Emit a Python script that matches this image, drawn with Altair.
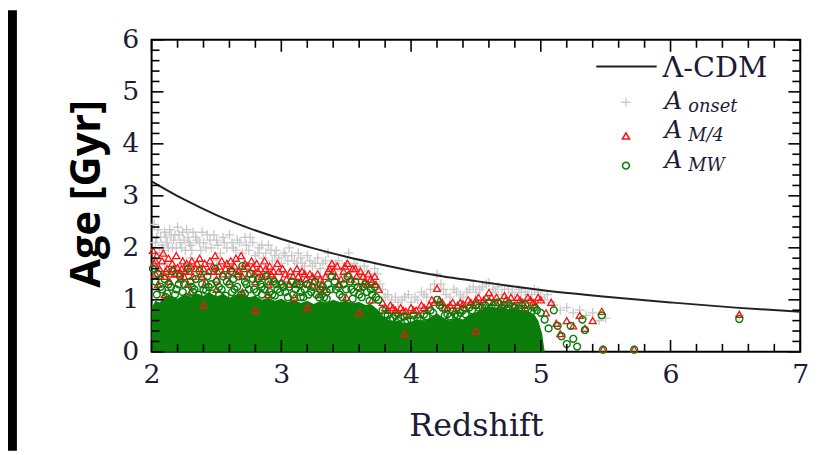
import altair as alt
import pandas as pd

# ---------------- data ----------------
lcdm_z = [2.0, 2.25, 2.5, 2.75, 3.0, 3.25, 3.5, 3.75, 4.0, 4.25, 4.5, 4.75, 5.0, 5.5, 6.0, 6.5, 7.0]
lcdm_age = [3.28, 2.93, 2.63, 2.38, 2.17, 1.99, 1.83, 1.69, 1.56, 1.45, 1.36, 1.27, 1.19, 1.06, 0.95, 0.85, 0.77]

# dense, saturated part of the A_MW cloud (upper edge of the solid green region)
core_z = [2.0, 2.03, 2.06, 2.1, 2.15, 2.2, 2.25, 2.3, 2.35, 2.4, 2.45, 2.5, 2.55, 2.6, 2.65, 2.7,
          2.75, 2.8, 2.85, 2.9, 2.95, 3.0, 3.05, 3.1, 3.15, 3.2, 3.25, 3.3, 3.35, 3.4, 3.45, 3.5,
          3.55, 3.6, 3.65, 3.7, 3.74, 3.78, 3.82, 3.86, 3.9, 3.95, 4.0, 4.05, 4.1, 4.15, 4.2, 4.25,
          4.3, 4.35, 4.4, 4.45, 4.5, 4.55, 4.6, 4.65, 4.7, 4.75, 4.8, 4.85, 4.9, 4.95, 4.98, 5.01, 5.03]
core_top = [0.85, 0.98, 0.95, 1.04, 1.08, 1.02, 1.1, 1.06, 1.12, 1.08, 1.14, 1.06, 1.12, 1.04, 1.1, 1.12,
            1.05, 1.08, 1.0, 1.04, 0.98, 1.02, 0.96, 1.0, 0.94, 0.98, 0.92, 0.98, 0.94, 1.0, 0.96, 0.98,
            0.94, 0.96, 0.9, 0.9, 0.82, 0.68, 0.62, 0.58, 0.6, 0.55, 0.58, 0.62, 0.6, 0.66, 0.74, 0.64,
            0.6, 0.66, 0.62, 0.72, 0.76, 0.82, 0.88, 0.84, 0.88, 0.82, 0.86, 0.8, 0.78, 0.72, 0.6, 0.35, 0.0]

onset_pts = [
    (2.02, 2.45), (2.04, 2.2), (2.06, 1.9), (2.08, 2.05), (2.1, 2.3), (2.12, 2.1), (2.14, 2.35),
    (2.16, 2.0), (2.18, 2.25), (2.2, 2.4), (2.22, 2.1), (2.24, 2.3), (2.26, 1.95), (2.28, 2.2),
    (2.3, 2.05), (2.32, 2.3), (2.35, 2.15), (2.38, 1.95), (2.4, 2.1), (2.43, 2.25), (2.46, 2.0),
    (2.5, 2.15), (2.53, 1.9), (2.56, 2.1), (2.6, 2.25), (2.63, 2.0), (2.66, 2.15), (2.7, 1.9),
    (2.73, 2.05), (2.76, 2.2), (2.8, 1.85), (2.83, 2.0), (2.86, 1.8), (2.9, 2.05), (2.93, 1.75),
    (2.96, 1.95), (3.0, 1.7), (3.03, 1.85), (3.06, 2.0), (3.1, 1.75), (3.13, 1.9), (3.16, 1.7),
    (3.2, 1.85), (3.24, 1.65), (3.28, 1.8), (3.32, 1.7), (3.36, 1.9), (3.4, 1.6), (3.44, 1.75),
    (3.48, 1.6), (3.52, 1.9), (3.56, 1.7), (3.6, 1.55), (3.64, 1.65), (3.68, 1.5), (3.72, 1.6),
    (3.76, 1.3), (3.8, 1.05), (3.85, 1.0), (3.9, 0.95), (3.95, 1.05), (4.0, 0.95), (4.05, 1.0),
    (4.1, 1.1), (4.15, 1.2), (4.2, 1.5), (4.23, 1.3), (4.27, 1.1), (4.3, 1.05), (4.35, 1.15),
    (4.4, 1.05), (4.45, 1.2), (4.5, 1.15), (4.55, 1.25), (4.6, 1.33), (4.63, 1.2), (4.67, 1.25),
    (4.7, 1.1), (4.75, 1.2), (4.8, 1.05), (4.85, 1.15), (4.9, 1.1), (4.95, 1.2), (5.0, 1.05),
    (5.05, 1.1), (5.1, 0.9), (5.15, 0.8), (5.2, 0.85), (5.25, 0.75), (5.3, 0.8), (5.35, 0.7),
    (5.4, 0.75), (5.45, 0.6), (5.5, 0.65), (6.53, 0.7),
    (2.1, 1.7), (2.3, 1.8), (2.5, 1.75), (2.7, 1.65), (2.9, 1.6), (3.1, 1.5), (3.3, 1.45),
    (3.5, 1.4), (2.2, 1.55), (2.6, 1.5),
    (2.03, 2.1), (2.05, 2.35), (2.07, 2.2), (2.09, 1.95), (2.11, 2.2), (2.13, 2.0), (2.15, 2.25),
    (2.17, 2.15), (2.19, 2.0), (2.21, 2.25), (2.23, 2.0), (2.25, 2.15), (2.27, 2.35), (2.29, 2.1),
    (2.31, 1.95), (2.34, 2.2), (2.37, 2.1), (2.39, 2.3), (2.42, 2.0), (2.45, 2.15), (2.48, 2.25),
    (2.51, 2.05), (2.55, 2.2), (2.58, 2.0), (2.62, 2.1), (2.65, 1.95), (2.68, 2.1), (2.72, 2.2),
    (2.75, 1.95), (2.78, 2.1), (2.82, 1.9), (2.85, 2.05), (2.88, 1.9), (2.92, 1.95), (2.95, 1.85),
    (2.98, 1.8), (3.02, 1.9), (3.05, 1.75), (3.08, 1.85), (3.12, 1.7), (3.15, 1.8), (3.18, 1.65),
    (3.22, 1.75), (3.26, 1.7), (3.3, 1.6), (3.34, 1.75), (3.38, 1.65), (3.42, 1.7), (3.46, 1.55),
    (3.5, 1.7), (3.54, 1.6), (3.58, 1.65), (3.62, 1.45), (3.66, 1.55), (3.7, 1.4), (3.74, 1.5),
    (3.78, 1.2), (3.82, 1.1), (3.88, 1.05), (3.93, 1.0), (3.98, 1.1), (4.03, 1.05), (4.08, 1.15),
    (4.12, 1.05), (4.18, 1.3), (4.25, 1.2), (4.33, 1.2), (4.38, 1.1), (4.43, 1.15), (4.48, 1.25),
    (4.53, 1.2), (4.58, 1.3), (4.65, 1.15), (4.72, 1.2), (4.78, 1.15), (4.83, 1.2), (4.88, 1.15),
    (4.93, 1.1), (4.98, 1.15), (5.03, 1.0), (5.08, 0.95),
]

m4_pts = [
    (2.01, 1.95), (2.02, 1.7), (2.03, 1.5), (2.04, 1.85), (2.05, 1.3), (2.06, 1.6), (2.08, 1.75),
    (2.1, 1.45), (2.12, 1.6), (2.14, 1.35), (2.16, 1.7), (2.18, 1.5), (2.2, 1.62), (2.22, 1.4),
    (2.24, 1.75), (2.26, 1.55), (2.28, 1.3), (2.3, 1.65), (2.32, 1.45), (2.35, 1.7), (2.38, 1.5),
    (2.4, 1.6), (2.42, 1.35), (2.45, 1.75), (2.48, 1.55), (2.5, 1.4), (2.52, 1.65), (2.55, 1.5),
    (2.58, 1.7), (2.6, 1.35), (2.62, 1.6), (2.65, 1.8), (2.67, 1.55), (2.7, 1.45), (2.72, 1.7),
    (2.75, 1.5), (2.78, 1.62), (2.8, 1.35), (2.82, 1.55), (2.85, 1.45), (2.88, 1.6), (2.9, 1.3),
    (2.92, 1.5), (2.95, 1.4), (2.98, 1.55), (3.0, 1.35), (3.03, 1.5), (3.06, 1.3), (3.09, 1.45),
    (3.12, 1.6), (3.15, 1.35), (3.18, 1.5), (3.21, 1.3), (3.24, 1.45), (3.27, 1.25), (3.3, 1.4),
    (3.33, 1.2), (3.36, 1.55), (3.39, 1.7), (3.42, 1.45), (3.45, 1.3), (3.48, 1.55), (3.51, 1.7),
    (3.54, 1.4), (3.57, 1.6), (3.6, 1.25), (3.63, 1.45), (3.66, 1.3), (3.69, 1.4), (3.72, 1.45),
    (3.75, 1.2), (3.78, 0.95), (3.82, 0.8), (3.86, 0.85), (3.9, 0.75), (3.94, 0.8), (3.98, 0.7),
    (4.02, 0.8), (4.06, 0.72), (4.1, 0.85), (4.14, 0.9), (4.18, 0.95), (4.2, 1.22), (4.22, 1.0),
    (4.26, 0.85), (4.3, 0.9), (4.34, 0.8), (4.38, 0.95), (4.42, 0.85), (4.46, 0.95), (4.5, 1.0),
    (4.54, 0.9), (4.58, 1.05), (4.6, 1.14), (4.63, 0.95), (4.66, 1.05), (4.7, 0.9), (4.73, 1.0),
    (4.77, 1.05), (4.8, 0.9), (4.84, 1.0), (4.88, 0.85), (4.92, 1.0), (4.96, 0.9), (5.0, 1.0),
    (5.04, 0.75), (5.08, 0.95), (5.12, 0.55), (5.15, 0.35), (5.2, 0.6), (5.25, 0.5), (5.3, 0.7),
    (5.34, 0.45), (5.4, 0.6), (5.47, 0.78), (5.48, 0.05), (5.72, 0.05), (6.53, 0.72),
    (2.1, 1.1), (2.3, 1.15), (2.5, 1.2), (2.7, 1.15), (2.9, 1.1), (3.1, 1.05), (3.3, 1.1),
    (3.5, 1.05), (3.7, 1.0), (2.4, 0.9), (2.8, 0.8), (3.2, 0.85), (3.6, 0.75), (3.95, 0.35),
    (4.5, 0.4),
    (2.03, 1.75), (2.07, 1.45), (2.09, 1.9), (2.11, 1.55), (2.13, 1.8), (2.15, 1.5), (2.17, 1.6),
    (2.19, 1.85), (2.21, 1.5), (2.23, 1.6), (2.25, 1.45), (2.27, 1.7), (2.29, 1.55), (2.31, 1.75),
    (2.34, 1.6), (2.37, 1.8), (2.39, 1.45), (2.41, 1.7), (2.44, 1.55), (2.47, 1.65), (2.49, 1.85),
    (2.51, 1.55), (2.54, 1.75), (2.57, 1.6), (2.59, 1.5), (2.61, 1.75), (2.64, 1.65), (2.66, 1.5),
    (2.69, 1.85), (2.71, 1.6), (2.74, 1.65), (2.77, 1.75), (2.79, 1.5), (2.81, 1.7), (2.84, 1.6),
    (2.87, 1.75), (2.89, 1.5), (2.91, 1.65), (2.94, 1.55), (2.97, 1.7), (3.01, 1.6), (3.04, 1.4),
    (3.07, 1.55), (3.1, 1.3), (3.13, 1.45), (3.16, 1.55), (3.19, 1.4), (3.22, 1.5), (3.25, 1.35),
    (3.28, 1.5), (3.31, 1.3), (3.34, 1.45), (3.37, 1.6), (3.4, 1.55), (3.43, 1.65), (3.46, 1.4),
    (3.49, 1.65), (3.52, 1.5), (3.55, 1.6), (3.58, 1.45), (3.61, 1.55), (3.64, 1.35), (3.67, 1.5),
    (3.7, 1.35), (3.73, 1.3),
    (3.8, 0.85), (3.84, 0.9), (3.88, 0.8), (3.92, 0.85), (3.96, 0.78), (4.0, 0.85), (4.04, 0.8),
    (4.08, 0.9), (4.12, 0.8), (4.16, 1.0), (4.24, 0.95), (4.28, 0.85), (4.32, 0.95), (4.36, 0.9),
    (4.4, 0.92), (4.44, 1.0), (4.48, 0.9), (4.52, 1.05), (4.56, 1.0), (4.62, 1.05), (4.68, 0.95),
    (4.72, 1.08), (4.76, 0.95), (4.82, 1.05), (4.86, 0.95), (4.9, 1.05), (4.94, 0.95), (4.98, 1.05),
]

mw_pts = [
    (2.01, 1.6), (2.03, 1.35), (2.05, 1.5), (2.07, 1.25), (2.1, 1.4), (2.13, 1.3), (2.16, 1.55),
    (2.19, 1.2), (2.22, 1.45), (2.25, 1.3), (2.28, 1.6), (2.31, 1.25), (2.34, 1.4), (2.37, 1.55),
    (2.4, 1.2), (2.43, 1.45), (2.46, 1.3), (2.49, 1.6), (2.52, 1.25), (2.55, 1.45), (2.58, 1.35),
    (2.61, 1.55), (2.64, 1.2), (2.67, 1.45), (2.7, 1.65), (2.73, 1.3), (2.76, 1.5), (2.79, 1.2),
    (2.82, 1.4), (2.85, 1.25), (2.88, 1.45), (2.91, 1.15), (2.94, 1.35), (2.97, 1.2), (3.0, 1.3),
    (3.03, 1.15), (3.06, 1.25), (3.09, 1.1), (3.12, 1.3), (3.15, 1.15), (3.18, 1.2), (3.21, 1.1),
    (3.24, 1.25), (3.27, 1.1), (3.3, 1.2), (3.33, 1.05), (3.36, 1.3), (3.39, 1.45), (3.42, 1.2),
    (3.45, 1.1), (3.48, 1.3), (3.51, 1.45), (3.54, 1.2), (3.57, 1.35), (3.6, 1.1), (3.63, 1.25),
    (3.66, 1.15), (3.69, 1.2), (3.72, 1.25), (3.75, 1.0), (3.78, 0.8), (3.82, 0.7), (3.86, 0.65),
    (3.9, 0.6), (3.95, 0.68), (4.0, 0.62), (4.05, 0.65), (4.1, 0.72), (4.15, 0.8), (4.2, 1.0),
    (4.24, 0.85), (4.28, 0.72), (4.32, 0.78), (4.36, 0.7), (4.4, 0.8), (4.45, 0.85), (4.5, 0.9),
    (4.55, 0.85), (4.6, 0.95), (4.65, 0.9), (4.7, 0.85), (4.75, 0.92), (4.8, 0.85), (4.85, 0.9),
    (4.9, 0.8), (4.95, 0.85), (5.0, 0.75), (5.03, 0.62), (5.06, 0.45), (5.1, 0.8), (5.13, 0.5),
    (5.16, 0.3), (5.2, 0.15), (5.23, 0.5), (5.25, 0.25), (5.28, 0.1), (5.32, 0.62), (5.34, 0.42),
    (5.47, 0.7), (5.48, 0.04), (5.72, 0.04), (6.53, 0.63),
    (2.12, 1.12), (2.32, 1.15), (2.52, 1.1), (2.72, 1.12), (2.95, 1.08), (3.15, 1.05),
    (3.35, 1.02), (3.55, 1.02), (3.68, 0.98), (2.62, 1.15), (2.42, 1.18), (2.85, 1.1),
    (2.04, 1.1), (2.08, 1.2), (2.11, 1.05), (2.15, 1.25), (2.18, 1.1), (2.21, 1.3), (2.24, 1.15),
    (2.27, 1.05), (2.3, 1.35), (2.33, 1.2), (2.36, 1.1), (2.39, 1.3), (2.44, 1.25), (2.47, 1.12),
    (2.5, 1.35), (2.54, 1.2), (2.57, 1.08), (2.6, 1.3), (2.63, 1.4), (2.66, 1.25), (2.69, 1.1),
    (2.72, 1.35), (2.75, 1.2), (2.78, 1.4), (2.81, 1.15), (2.84, 1.3), (2.87, 1.2), (2.9, 1.35),
    (2.93, 1.1), (2.96, 1.3), (2.99, 1.15), (3.02, 1.25), (3.05, 1.05), (3.08, 1.35), (3.11, 1.2),
    (3.14, 1.3), (3.17, 1.05), (3.2, 1.3), (3.23, 1.15), (3.26, 1.35), (3.29, 1.05), (3.32, 1.25),
    (3.35, 1.15), (3.38, 1.2), (3.41, 1.35), (3.44, 1.25), (3.47, 1.05), (3.5, 1.2), (3.53, 1.35),
    (3.56, 1.15), (3.59, 1.25), (3.62, 1.05), (3.65, 1.3), (3.7, 1.1), (3.73, 1.05),
    (3.8, 0.72), (3.84, 0.62), (3.88, 0.7), (3.92, 0.66), (3.97, 0.6), (4.02, 0.7), (4.07, 0.6),
    (4.12, 0.68), (4.17, 0.75), (4.22, 0.9), (4.26, 0.7), (4.3, 0.68), (4.34, 0.72), (4.38, 0.75),
    (4.42, 0.72), (4.47, 0.8), (4.52, 0.85), (4.57, 0.9), (4.62, 0.85), (4.67, 0.95), (4.72, 0.9),
    (4.78, 0.88), (4.83, 0.82), (4.88, 0.9), (4.93, 0.78), (4.97, 0.8),
]

x_major = [2, 3, 4, 5, 6, 7]
x_minor = [2.2, 2.4, 2.6, 2.8, 3.2, 3.4, 3.6, 3.8, 4.2, 4.4, 4.6, 4.8,
           5.2, 5.4, 5.6, 5.8, 6.2, 6.4, 6.6, 6.8]
y_major = [0, 1, 2, 3, 4, 5, 6]
y_minor = [0.2, 0.4, 0.6, 0.8, 1.2, 1.4, 1.6, 1.8, 2.2, 2.4, 2.6, 2.8,
           3.2, 3.4, 3.6, 3.8, 4.2, 4.4, 4.6, 4.8, 5.2, 5.4, 5.6, 5.8]

legend_main = ["Λ-CDM", "A", "A", "A"]
legend_sub = ["", "onset", "M/4", "MW"]

# ---------------- layout / style ----------------
W, H = 655, 315
TXT = "#1c1c36"
SERIF = "DejaVu Serif"
GRAY, RED, GREEN = "#c8c8c8", "#ff1010", "#0a7d0a"
PLUS = "M-1,0L1,0M0,-1L0,1"

xs = alt.Scale(domain=[2, 7], nice=False, zero=False)
ys = alt.Scale(domain=[0, 6], nice=False, zero=False)

X_AX = alt.Axis(
    values=x_major, format="d", title="Redshift", ticks=False, tickSize=0, domain=False,
    grid=False, labelFont=SERIF, labelFontSize=27, labelColor=TXT, labelPadding=10,
    labelFlush=False, labelOverlap=False,
    titleFont=SERIF, titleFontSize=32, titleFontWeight="normal", titleColor=TXT,
    titleX=W / 2, titleY=85, titleBaseline="alphabetic", titleAlign="center")
Y_AX = alt.Axis(
    values=y_major, format="d", title="Age [Gyr]", ticks=False, tickSize=0, domain=False,
    grid=False, labelFont=SERIF, labelFontSize=27, labelColor=TXT, labelPadding=13,
    labelFlush=False, labelOverlap=False,
    titleFont="Open Sans", titleFontSize=42, titleFontWeight="bold", titleColor="black",
    titleAngle=270, titleX=-53, titleY=155, titleBaseline="alphabetic", titleAlign="center")


def X(field):
    return alt.X(field, scale=xs, axis=X_AX)


def Y(field):
    return alt.Y(field, scale=ys, axis=Y_AX)


def pts_df(pts):
    return pd.DataFrame(pts, columns=["z", "age"])


core = alt.Chart(pd.DataFrame({"z": core_z, "age": core_top})).mark_area(
    color=GREEN, interpolate="linear", opacity=1
).encode(x=X("z:Q"), y=Y("age:Q"))


def scatter(df, shape, color, size, sw):
    return alt.Chart(df).mark_point(
        shape=shape, filled=False, color=color, size=size, strokeWidth=sw, opacity=1
    ).encode(x=X("z:Q"), y=Y("age:Q"))


onset = scatter(pts_df(onset_pts), PLUS, GRAY, 90, 1.3)
m4 = scatter(pts_df(m4_pts), "triangle-up", RED, 50, 1.3)
mw = scatter(pts_df(mw_pts), "circle", GREEN, 48, 1.4)

lcdm = alt.Chart(pd.DataFrame({"z": lcdm_z, "age": lcdm_age})).mark_line(
    color="#222222", strokeWidth=2, interpolate="monotone"
).encode(x=X("z:Q"), y=Y("age:Q"))


def xticks(vals, y0, y1):
    return alt.Chart(pd.DataFrame({"z": vals})).mark_rule(color="black", strokeWidth=1.6).encode(
        x=X("z:Q"), y=alt.value(y0), y2=alt.value(y1))


def yticks(vals, x0, x1):
    return alt.Chart(pd.DataFrame({"age": vals})).mark_rule(color="black", strokeWidth=1.6).encode(
        y=Y("age:Q"), x=alt.value(x0), x2=alt.value(x1))


MAJ, MIN = 12, 8
ticks = [
    xticks(x_major, H, H - MAJ), xticks(x_minor, H, H - MIN),
    xticks(x_major, 0, MAJ), xticks(x_minor, 0, MIN),
    yticks(y_major, 0, MAJ), yticks(y_minor, 0, MIN),
    yticks(y_major, W, W - MAJ), yticks(y_minor, W, W - MIN),
]

one = pd.DataFrame({"k": [0]})
strip = alt.Chart(one).mark_rect(color="black").encode(
    x=alt.value(-145), x2=alt.value(-136), y=alt.value(-30), y2=alt.value(H + 100))

leg_line = alt.Chart(one).mark_rule(color="#222222", strokeWidth=2).encode(
    x=alt.value(449), x2=alt.value(510), y=alt.value(27))
leg_sym = [
    alt.Chart(one).mark_point(shape=PLUS, filled=False, color=GRAY, size=90, strokeWidth=1.3, opacity=1)
    .encode(x=alt.value(479), y=alt.value(63)),
    alt.Chart(one).mark_point(shape="triangle-up", filled=False, color=RED, size=50, strokeWidth=1.6, opacity=1)
    .encode(x=alt.value(479), y=alt.value(97)),
    alt.Chart(one).mark_point(shape="circle", filled=False, color=GREEN, size=48, strokeWidth=1.6, opacity=1)
    .encode(x=alt.value(479), y=alt.value(127)),
]
main_y = [37, 70, 99, 129]
leg_text = [
    alt.Chart(one).mark_text(text=legend_main[0], font=SERIF, fontSize=29, color=TXT,
                             align="left", baseline="alphabetic")
    .encode(x=alt.value(516), y=alt.value(main_y[0]))
]
for i in range(1, 4):
    leg_text.append(
        alt.Chart(one).mark_text(text=legend_main[i], font=SERIF, fontSize=25, fontStyle="italic",
                                 color=TXT, align="left", baseline="alphabetic")
        .encode(x=alt.value(518), y=alt.value(main_y[i])))
    leg_text.append(
        alt.Chart(one).mark_text(text=legend_sub[i], font=SERIF, fontSize=18, fontStyle="italic",
                                 color=TXT, align="left", baseline="alphabetic")
        .encode(x=alt.value(542), y=alt.value(main_y[i] + 3)))

chart = alt.layer(
    core, strip, onset, m4, mw, lcdm, *ticks, leg_line, *leg_sym, *leg_text
).properties(
    width=W, height=H,
    autosize=alt.AutoSizeParams(type="none"),
    padding={"left": 145, "top": 30, "right": 28, "bottom": 100},
    background="white",
).configure_view(stroke="black", strokeWidth=2)

chart.save("out.html", embed_options={"renderer": "svg", "actions": False})
